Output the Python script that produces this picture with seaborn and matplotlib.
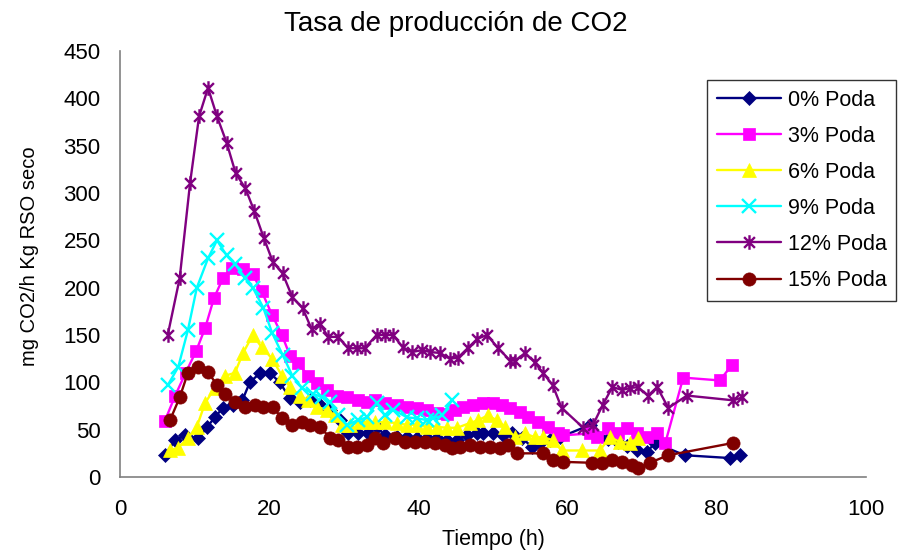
import numpy as np
import pandas as pd
import matplotlib
matplotlib.use("Agg")
import matplotlib.pyplot as plt
from matplotlib.path import Path
import seaborn as sns

# ---- data ----
x_0 = [6.0, 7.4, 8.7, 10.5, 11.7, 12.7, 13.8, 15.1, 16.4, 17.4, 18.8, 20.1, 21.4, 22.8, 24.1, 25.5,
       26.8, 28.2, 29.5, 30.6, 31.9, 33.2, 34.4, 35.5, 37.1, 38.5, 39.8, 41.2, 42.5, 43.8, 45.2, 46.5,
       47.9, 48.7, 50.0, 51.3, 52.5, 53.9, 55.2, 56.3, 57.6, 59.0, 63.0, 65.4, 66.8, 68.0, 69.3, 70.6,
       71.7, 75.7, 81.8, 83.1]
y_0 = [23, 39, 44, 41, 53, 63, 73, 76, 81, 100, 110, 110, 100, 83, 79, 81,
       76, 71, 60, 47, 46, 47, 53, 44, 42, 42, 41, 41, 41, 39, 39, 44,
       46, 47, 46, 44, 46, 41, 32, 36, 39, 42, 55, 40, 37, 33, 28, 26,
       36, 23, 20, 23]

x_3 = [6.0, 7.4, 8.8, 10.2, 11.4, 12.6, 13.8, 15.0, 16.5, 17.8, 19.0, 20.4, 21.7, 22.8, 23.9, 25.2,
       26.4, 27.7, 29.1, 30.4, 31.9, 33.1, 34.2, 35.5, 37.1, 38.5, 39.8, 41.2, 42.5, 43.8, 44.9, 46.0,
       47.3, 48.7, 50.0, 51.2, 52.3, 53.6, 54.7, 56.0, 57.4, 58.7, 59.4, 63.0, 64.0, 65.4, 66.8, 68.0,
       69.3, 70.6, 72.0, 73.1, 75.5, 80.4, 82.0]
y_3 = [59, 86, 110, 133, 157, 189, 210, 221, 220, 214, 196, 171, 150, 128, 120, 107,
       99, 92, 86, 84, 81, 79, 81, 78, 76, 74, 73, 71, 68, 67, 71, 74,
       76, 78, 78, 76, 73, 69, 63, 58, 53, 46, 44, 46, 42, 52, 46, 52,
       46, 42, 46, 36, 105, 102, 118]

x_6 = [6.7, 7.8, 9.1, 10.3, 11.4, 12.7, 14.1, 15.4, 16.5, 17.8, 19.0, 20.4, 21.7, 22.8, 24.1, 25.2,
       26.4, 27.7, 28.8, 29.8, 30.8, 32.2, 33.2, 34.2, 35.5, 37.1, 38.5, 39.8, 41.2, 42.5, 43.8, 45.2,
       46.9, 48.0, 49.3, 50.5, 51.6, 53.0, 54.3, 55.6, 56.7, 58.0, 59.2, 61.9, 64.3, 65.7, 67.0, 68.4,
       69.4]
y_6 = [28, 31, 41, 53, 78, 94, 107, 110, 131, 150, 137, 125, 107, 95, 86, 81,
       74, 71, 65, 55, 55, 58, 58, 58, 58, 57, 55, 55, 53, 53, 52, 52,
       57, 60, 65, 60, 53, 42, 46, 42, 42, 39, 28, 28, 28, 42, 37, 36,
       41]

x_9 = [6.4, 7.8, 9.1, 10.3, 11.8, 13.0, 14.3, 15.4, 16.8, 17.8, 19.2, 20.4, 21.8, 23.1, 24.4, 25.9,
       27.1, 28.2, 29.2, 30.4, 31.9, 33.1, 34.4, 35.5, 36.6, 38.5, 39.8, 41.2, 42.0, 43.2, 44.5]
y_9 = [97, 116, 155, 200, 231, 250, 234, 225, 210, 200, 179, 152, 129, 107, 94, 88,
       84, 79, 65, 55, 60, 63, 78, 65, 71, 63, 62, 60, 62, 65, 81]

x_12 = [6.4, 8.0, 9.4, 10.6, 11.8, 13.0, 14.3, 15.5, 16.8, 18.0, 19.3, 20.5, 21.8, 23.1, 24.5, 25.7,
        26.8, 27.9, 29.2, 30.6, 31.8, 32.8, 34.4, 35.5, 36.6, 37.9, 39.1, 40.5, 41.6, 42.9, 44.2, 45.3,
        46.6, 47.9, 49.2, 50.7, 52.3, 53.0, 54.3, 55.6, 56.7, 58.0, 59.2, 62.1, 63.4, 64.7, 66.0, 67.3,
        68.4, 69.4, 70.8, 72.0, 73.5, 76.0, 82.2, 83.4]
y_12 = [150, 210, 311, 381, 411, 381, 353, 321, 305, 281, 252, 227, 215, 190, 178, 156,
        162, 148, 148, 136, 136, 136, 150, 150, 150, 137, 132, 134, 132, 131, 125, 126,
        136, 146, 150, 136, 123, 123, 131, 121, 110, 97, 73, 52, 55, 76, 95, 92,
        94, 95, 86, 95, 73, 86, 81, 84]

x_15 = [6.7, 8.0, 9.1, 10.5, 11.8, 13.0, 14.1, 15.4, 16.8, 18.1, 19.2, 20.5, 21.7, 23.1, 24.4, 25.5,
        26.8, 28.2, 29.2, 30.6, 31.8, 33.1, 34.2, 35.3, 36.9, 38.2, 39.5, 40.9, 42.2, 43.6, 44.5, 45.6,
        46.9, 48.3, 49.6, 50.9, 52.0, 53.2, 56.7, 58.0, 59.4, 63.3, 64.6, 66.0, 67.3, 68.6, 69.4, 71.0,
        73.5, 82.2]
y_15 = [60, 84, 110, 116, 111, 97, 88, 79, 74, 76, 74, 74, 62, 55, 58, 55,
        53, 41, 39, 32, 32, 34, 41, 36, 41, 37, 37, 37, 36, 34, 31, 32,
        34, 32, 32, 31, 34, 25, 25, 18, 16, 15, 15, 18, 16, 13, 9, 15,
        23, 36]

series_labels = ["0% Poda", "3% Poda", "6% Poda", "9% Poda", "12% Poda", "15% Poda"]
title_text = "Tasa de producción de CO2"
xlabel_text = "Tiempo (h)"
ylabel_text = "mg CO2/h Kg RSO seco"
x_ticks = [0, 20, 40, 60, 80, 100]
y_ticks = [0, 50, 100, 150, 200, 250, 300, 350, 400, 450]

# ---- styling ----
sns.set_style("white")
plt.rcParams["font.family"] = ["Liberation Sans", "DejaVu Sans"]
plt.rcParams["text.color"] = "black"

# asterisk marker: x plus vertical bar (open path)
star_path = Path(
    [(-1, -1), (1, 1), (-1, 1), (1, -1), (0, -1.35), (0, 1.35)],
    [Path.MOVETO, Path.LINETO, Path.MOVETO, Path.LINETO, Path.MOVETO, Path.LINETO],
)

styles = [
    dict(color="#000080", marker="D", ms=7.5, mfc="#000080", mec="#000080", mew=0.5),
    dict(color="#FF00FF", marker="s", ms=8.5, mfc="#FF00FF", mec="#FF00FF", mew=0.5),
    dict(color="#FFFF00", marker="^", ms=10.5, mfc="#FFFF00", mec="#FFFF00", mew=0.5),
    dict(color="#00FFFF", marker="x", ms=9.5, mfc="none", mec="#00FFFF", mew=1.7),
    dict(color="#800080", marker=star_path, ms=10.5, mfc="none", mec="#800080", mew=1.7),
    dict(color="#800000", marker="o", ms=9.5, mfc="#800000", mec="#800000", mew=0.5),
]

xs = [x_0, x_3, x_6, x_9, x_12, x_15]
ys = [y_0, y_3, y_6, y_9, y_12, y_15]

W, H = 912, 553
fig = plt.figure(figsize=(W / 100, H / 100), dpi=100)
ax = fig.add_axes([120 / W, 1 - 477 / H, (866 - 120) / W, (477 - 51) / H])

for lab, xv, yv, st in zip(series_labels, xs, ys, styles):
    df = pd.DataFrame({"x": xv, "y": yv})
    sns.lineplot(data=df, x="x", y="y", ax=ax, estimator=None, sort=False,
                 color=st["color"], linewidth=1.7, label=lab,
                 marker=st["marker"], markersize=st["ms"],
                 markerfacecolor=st["mfc"], markeredgecolor=st["mec"],
                 markeredgewidth=st["mew"], clip_on=False)

ax.set_xlim(0, 100)
ax.set_ylim(0, 450)
ax.set_xticks(x_ticks)
ax.set_yticks(y_ticks)
ax.set_xlabel("")
ax.set_ylabel("")
for s in ["top", "right"]:
    ax.spines[s].set_visible(False)
for s in ["left", "bottom"]:
    ax.spines[s].set_color("#808080")
    ax.spines[s].set_linewidth(1.2)
ax.tick_params(axis="both", which="major", direction="out", length=5, width=1.0,
               color="#808080", labelsize=16, labelcolor="black")
ax.tick_params(axis="x", pad=11)
ax.tick_params(axis="y", pad=9)
ax.grid(False)

fig.text(0.5, 1 - 31 / H, title_text, ha="center", va="baseline", fontsize=20, color="black")
fig.text(493 / W, 1 - 545 / H, xlabel_text, ha="center", va="baseline", fontsize=15.5, color="black")
fig.text(30 / W, 1 - 256 / H, ylabel_text, ha="center", va="center", rotation=90, fontsize=14.5,
         color="black")

leg = ax.legend(loc="upper left", bbox_to_anchor=(707 / W, 1 - 80 / H), bbox_transform=fig.transFigure,
                frameon=True, fancybox=False, edgecolor="black", fontsize=15.5,
                handlelength=3.0, handletextpad=0.3, labelspacing=0.7,
                borderpad=0.45, borderaxespad=0)
leg.get_frame().set_linewidth(1.0)
for t in leg.get_texts():
    t.set_color("black")

fig.savefig("out.png", dpi=100)
